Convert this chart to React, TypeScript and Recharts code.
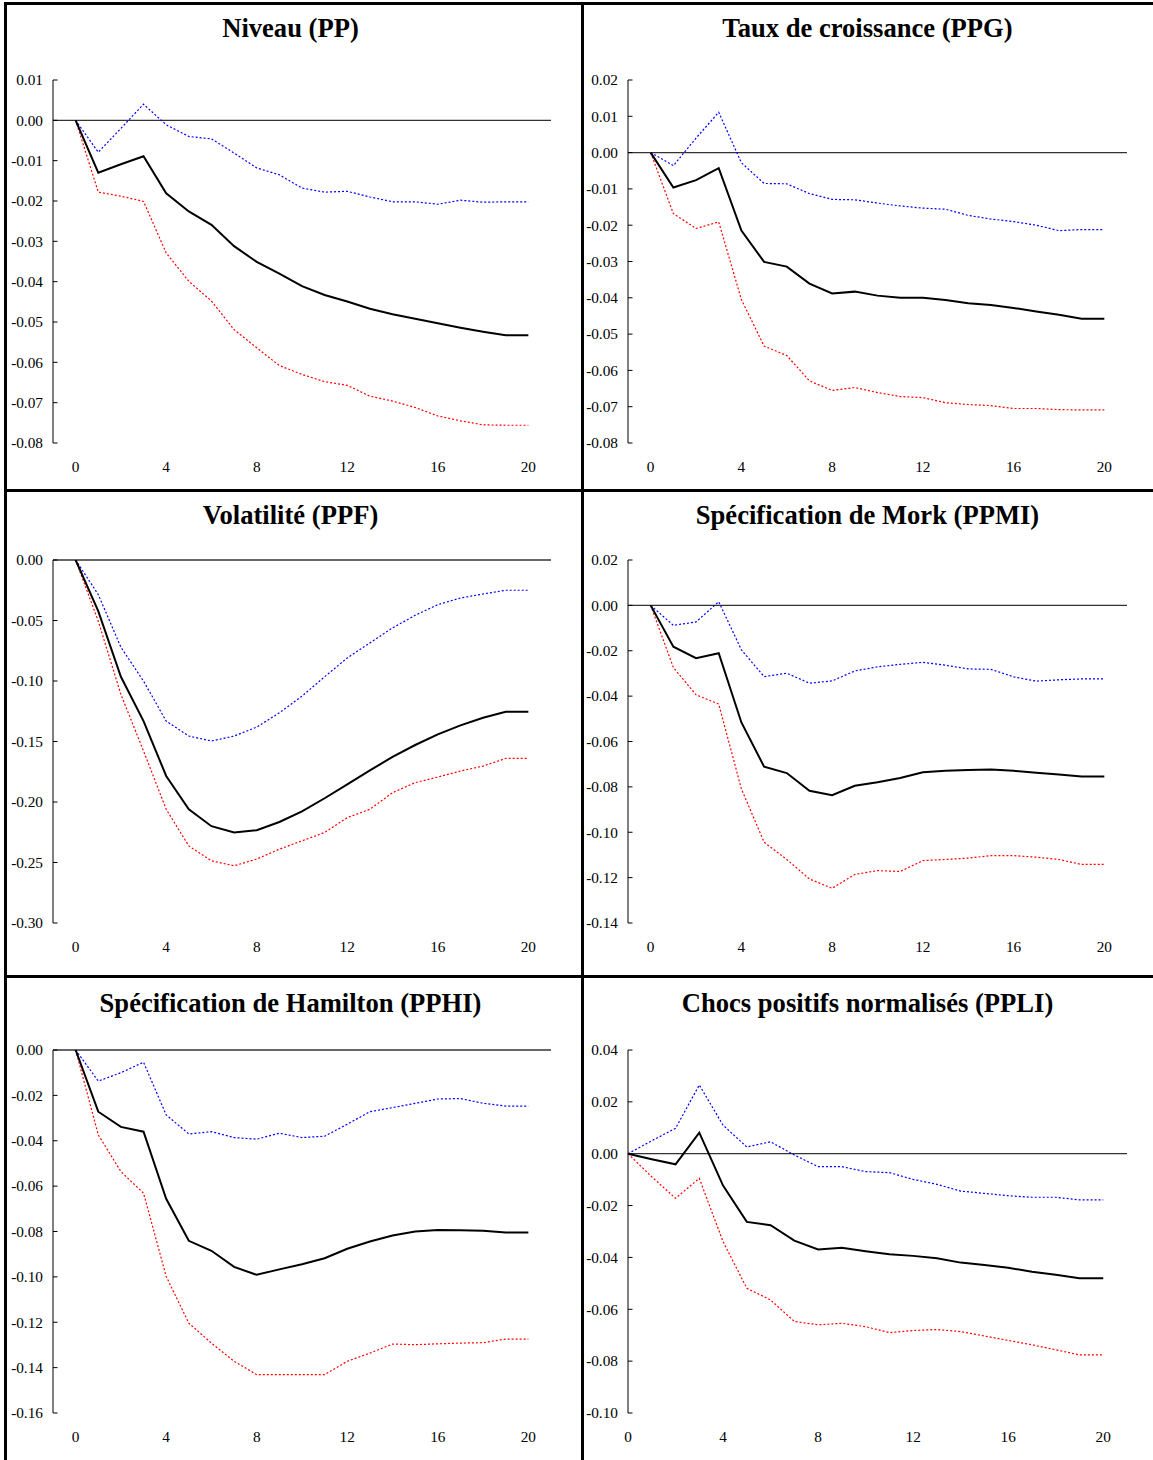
import React from "react";
import { LineChart, Line, XAxis, YAxis, ReferenceLine } from "recharts";

const periods = [0, 1, 2, 3, 4, 5, 6, 7, 8, 9, 10, 11, 12, 13, 14, 15, 16, 17, 18, 19, 20];
const xTicks = [0, 4, 8, 12, 16, 20];

const titles = [
  "Niveau (PP)",
  "Taux de croissance (PPG)",
  "Volatilité (PPF)",
  "Spécification de Mork (PPMI)",
  "Spécification de Hamilton (PPHI)",
  "Chocs positifs normalisés (PPLI)",
];

// Niveau (PP)
const ppMid = [0, -0.013, -0.0109, -0.0089, -0.0181, -0.0226, -0.0259, -0.0312, -0.0351, -0.038, -0.0411, -0.0433, -0.0449, -0.0467, -0.0481, -0.0492, -0.0503, -0.0514, -0.0524, -0.0533, -0.0533];
const ppUp = [0, -0.0079, -0.002, 0.004, -0.0011, -0.004, -0.0046, -0.0081, -0.0118, -0.0135, -0.0168, -0.0178, -0.0176, -0.019, -0.0202, -0.0202, -0.0208, -0.0198, -0.0203, -0.0202, -0.0202];
const ppLow = [0, -0.0178, -0.0188, -0.0201, -0.0329, -0.0399, -0.0448, -0.0519, -0.0564, -0.0608, -0.063, -0.0648, -0.0657, -0.0684, -0.0696, -0.0712, -0.0733, -0.0745, -0.0755, -0.0756, -0.0756];
const ppTicks = [0.01, 0, -0.01, -0.02, -0.03, -0.04, -0.05, -0.06, -0.07, -0.08];

// Taux de croissance (PPG)
const ppgMid = [0, -0.0096, -0.0076, -0.0043, -0.0215, -0.0301, -0.0314, -0.0361, -0.0388, -0.0383, -0.0394, -0.04, -0.04, -0.0406, -0.0415, -0.042, -0.0428, -0.0438, -0.0447, -0.0458, -0.0458];
const ppgUp = [0, -0.0036, 0.004, 0.0111, -0.0028, -0.0085, -0.0086, -0.0113, -0.0129, -0.013, -0.0139, -0.0147, -0.0153, -0.0156, -0.0173, -0.0183, -0.019, -0.02, -0.0215, -0.0212, -0.0212];
const ppgLow = [0, -0.0168, -0.0209, -0.0191, -0.0405, -0.0533, -0.0559, -0.0629, -0.0655, -0.0647, -0.0661, -0.0672, -0.0675, -0.0689, -0.0694, -0.0697, -0.0705, -0.0705, -0.0708, -0.0709, -0.0709];
const ppgTicks = [0.02, 0.01, 0, -0.01, -0.02, -0.03, -0.04, -0.05, -0.06, -0.07, -0.08];

// Volatilité (PPF)
const ppfMid = [0, -0.0423, -0.0965, -0.1331, -0.1785, -0.206, -0.22, -0.2252, -0.2233, -0.2165, -0.2077, -0.1969, -0.1854, -0.1738, -0.1628, -0.1529, -0.1441, -0.1367, -0.1304, -0.1254, -0.1254];
const ppfUp = [0, -0.0286, -0.0721, -0.1001, -0.1331, -0.1455, -0.1496, -0.1455, -0.1381, -0.1263, -0.1125, -0.0965, -0.0809, -0.0685, -0.0561, -0.0457, -0.0369, -0.0314, -0.0281, -0.025, -0.025];
const ppfLow = [0, -0.0506, -0.1111, -0.1579, -0.206, -0.2363, -0.2486, -0.2527, -0.2472, -0.239, -0.2321, -0.2252, -0.2129, -0.206, -0.1923, -0.184, -0.1794, -0.1744, -0.1703, -0.164, -0.164];
const ppfTicks = [0, -0.05, -0.1, -0.15, -0.2, -0.25, -0.3];

// Spécification de Mork (PPMI)
const ppmiMid = [0, -0.0182, -0.0233, -0.0211, -0.0516, -0.0711, -0.0739, -0.0817, -0.0837, -0.0795, -0.078, -0.0761, -0.0736, -0.0729, -0.0726, -0.0723, -0.0729, -0.0738, -0.0745, -0.0754, -0.0754];
const ppmiUp = [0, -0.0088, -0.0073, 0.0016, -0.0196, -0.0314, -0.0299, -0.0343, -0.0333, -0.0289, -0.0271, -0.026, -0.0251, -0.0264, -0.028, -0.0282, -0.0315, -0.0334, -0.0328, -0.0324, -0.0324];
const ppmiLow = [0, -0.0274, -0.0394, -0.0435, -0.0809, -0.1044, -0.112, -0.1206, -0.1247, -0.1186, -0.1169, -0.1173, -0.1125, -0.112, -0.1114, -0.1103, -0.1103, -0.111, -0.112, -0.1142, -0.1142];
const ppmiTicks = [0.02, 0, -0.02, -0.04, -0.06, -0.08, -0.1, -0.12, -0.14];

// Spécification de Hamilton (PPHI)
const pphiMid = [0, -0.0272, -0.0339, -0.036, -0.0656, -0.0841, -0.0885, -0.0956, -0.0991, -0.0967, -0.0944, -0.0918, -0.0876, -0.0844, -0.0818, -0.08, -0.0793, -0.0794, -0.0797, -0.0804, -0.0804];
const pphiUp = [0, -0.0137, -0.01, -0.0054, -0.0286, -0.037, -0.036, -0.0386, -0.0393, -0.0367, -0.0386, -0.038, -0.0327, -0.0272, -0.0254, -0.0235, -0.0216, -0.0214, -0.0235, -0.0247, -0.0247];
const pphiLow = [0, -0.0374, -0.0536, -0.0631, -0.0998, -0.1204, -0.1292, -0.1372, -0.1431, -0.1431, -0.1431, -0.1431, -0.1372, -0.1336, -0.1296, -0.1299, -0.1295, -0.1292, -0.129, -0.1274, -0.1274];
const pphiTicks = [0, -0.02, -0.04, -0.06, -0.08, -0.1, -0.12, -0.14, -0.16];

// Chocs positifs normalisés (PPLI)
const ppliMid = [0, -0.0021, -0.0041, 0.0081, -0.0123, -0.0263, -0.0276, -0.0335, -0.0369, -0.0363, -0.0376, -0.0388, -0.0394, -0.0403, -0.042, -0.0429, -0.044, -0.0455, -0.0467, -0.048, -0.048];
const ppliUp = [0, 0.005, 0.0098, 0.0265, 0.011, 0.0026, 0.0046, -0.0005, -0.005, -0.005, -0.0069, -0.0073, -0.0099, -0.0118, -0.0144, -0.0153, -0.0162, -0.0168, -0.0168, -0.0178, -0.0178];
const ppliLow = [0, -0.0089, -0.0172, -0.0095, -0.0339, -0.0519, -0.0564, -0.0647, -0.066, -0.0654, -0.0667, -0.069, -0.0682, -0.0678, -0.0686, -0.0703, -0.072, -0.0737, -0.0756, -0.0776, -0.0776];
const ppliTicks = [0.04, 0.02, 0, -0.02, -0.04, -0.06, -0.08, -0.1];

const FONT = '"Liberation Serif", "Times New Roman", serif';

const build = (mid: number[], up: number[], low: number[]) =>
  periods.map((t, i) => ({ t, mid: mid[i], up: up[i], low: low[i] }));

const YTick = (props: any) => {
  const { x, y, payload } = props;
  return (
    <g>
      <line x1={x} y1={y} x2={x + 4.5} y2={y} stroke="#000" strokeWidth={1} />
      <text x={x - 10} y={y} dy="0.35em" textAnchor="end" fontSize={15.3} fontFamily={FONT} fill="#000">
        {Number(payload.value).toFixed(2)}
      </text>
    </g>
  );
};

const XTick = (props: any) => {
  const { x, y, payload } = props;
  return (
    <text x={x} y={y + 24} dy="0.35em" textAnchor="middle" fontSize={15.3} fontFamily={FONT} fill="#000">
      {payload.value}
    </text>
  );
};

type PanelCfg = {
  title: string;
  data: any[];
  ticks: number[];
  xDomain: [number, number];
  left: number;
  top: number;
  width: number;
  height: number;
  yWidth: number;
  mTop: number;
  mRight: number;
  mBottom: number;
  titleY: number;
};

const rows = [
  { top: 0, height: 491, mTop: 80, mBottom: 18, titleY: 28 },
  { top: 491, height: 487, mTop: 69, mBottom: 25, titleY: 24 },
  { top: 978, height: 482, mTop: 72, mBottom: 17, titleY: 25 },
];
const cols = [
  { left: 0, width: 581, yWidth: 53, mRight: 30 },
  { left: 582, width: 571, yWidth: 46, mRight: 26 },
];

const seriesSets = [
  [ppMid, ppUp, ppLow, ppTicks],
  [ppgMid, ppgUp, ppgLow, ppgTicks],
  [ppfMid, ppfUp, ppfLow, ppfTicks],
  [ppmiMid, ppmiUp, ppmiLow, ppmiTicks],
  [pphiMid, pphiUp, pphiLow, pphiTicks],
  [ppliMid, ppliUp, ppliLow, ppliTicks],
];

const panels: PanelCfg[] = seriesSets.map((s, i) => {
  const r = rows[Math.floor(i / 2)];
  const c = cols[i % 2];
  const isLast = i === 5;
  return {
    title: titles[i],
    data: build(s[0], s[1], s[2]),
    ticks: s[3],
    xDomain: isLast ? [0, 21] : [-1, 21],
    left: c.left,
    top: r.top,
    width: c.width,
    height: r.height,
    yWidth: c.yWidth,
    mTop: r.mTop,
    mRight: c.mRight,
    mBottom: r.mBottom,
    titleY: r.titleY,
  };
});

const Panel = ({ p }: { p: PanelCfg }) => {
  const yMax = Math.max(...p.ticks);
  const yMin = Math.min(...p.ticks);
  return (
    <div style={{ position: "absolute", left: p.left, top: p.top, width: p.width, height: p.height }}>
      <div
        style={{
          position: "absolute",
          left: 0,
          top: p.titleY - 15,
          width: p.width,
          height: 30,
          lineHeight: "30px",
          textAlign: "center",
          fontFamily: FONT,
          fontWeight: "bold",
          fontSize: 26.6,
          color: "#000",
        }}
      >
        {p.title}
      </div>
      <LineChart
        width={p.width}
        height={p.height}
        data={p.data}
        margin={{ top: p.mTop, right: p.mRight, bottom: p.mBottom, left: 0 }}
      >
        <XAxis
          dataKey="t"
          type="number"
          domain={p.xDomain}
          ticks={xTicks}
          axisLine={false}
          tickLine={false}
          tickSize={0}
          tickMargin={0}
          height={30}
          tick={<XTick />}
          interval={0}
        />
        <YAxis
          type="number"
          domain={[yMin, yMax]}
          ticks={p.ticks}
          width={p.yWidth}
          axisLine={{ stroke: "#000", strokeWidth: 1 }}
          tickLine={false}
          tickSize={0}
          tickMargin={0}
          tick={<YTick />}
          interval={0}
          allowDataOverflow
        />
        <ReferenceLine y={0} stroke="#333" strokeWidth={1.3} />
        <Line type="linear" dataKey="up" stroke="#0000ff" strokeWidth={1.2} strokeDasharray="2 2" dot={false} isAnimationActive={false} />
        <Line type="linear" dataKey="low" stroke="#ff0000" strokeWidth={1.2} strokeDasharray="2 2" dot={false} isAnimationActive={false} />
        <Line type="linear" dataKey="mid" stroke="#000" strokeWidth={2} dot={false} isAnimationActive={false} />
      </LineChart>
    </div>
  );
};

export default function App() {
  const bar = (style: React.CSSProperties) => (
    <div style={{ position: "absolute", background: "#000", ...style }} />
  );
  return (
    <div style={{ position: "absolute", left: 0, top: 0, width: 1153, height: 1460, background: "#fff", overflow: "hidden" }}>
      {panels.map((p, i) => (
        <Panel key={i} p={p} />
      ))}
      {bar({ left: 4, top: 2, width: 1149, height: 2.5 })}
      {bar({ left: 4, top: 2, width: 3, height: 1458 })}
      {bar({ left: 581, top: 2, width: 3, height: 1458 })}
      {bar({ left: 4, top: 489, width: 1149, height: 3 })}
      {bar({ left: 4, top: 975, width: 1149, height: 3 })}
    </div>
  );
}
